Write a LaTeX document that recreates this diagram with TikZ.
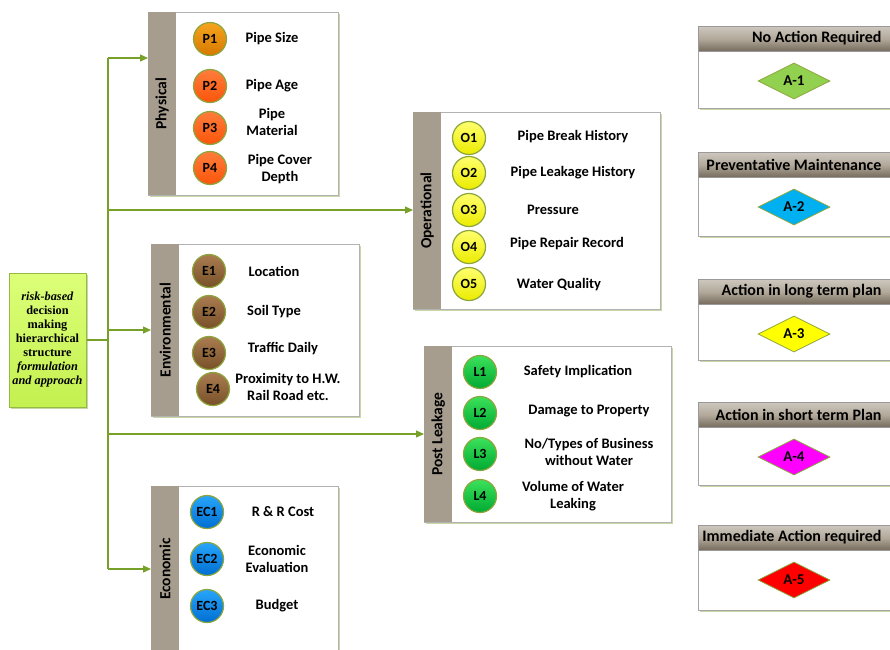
\documentclass[tikz,border=0pt]{standalone}
\usepackage{fontspec}
\setmainfont{Carlito}
\newfontfamily\rootfont{Liberation Serif}
\usetikzlibrary{shapes.geometric, positioning, arrows.meta, shadows}

\definecolor{linkgreen}{RGB}{118,160,40}
\definecolor{stripgray}{RGB}{166,157,142}
\definecolor{shadowgreen}{RGB}{200,216,165}
\definecolor{ringgreen}{RGB}{140,165,60}
\definecolor{rootborder}{RGB}{150,185,70}
\definecolor{roottop}{RGB}{220,255,120}
\definecolor{rootbot}{RGB}{196,240,80}
\definecolor{headtop}{RGB}{205,199,190}
\definecolor{headmid}{RGB}{178,169,155}
\definecolor{headbot}{RGB}{118,107,92}
\definecolor{actgreen}{RGB}{146,208,80}
\definecolor{actcyan}{RGB}{0,176,240}
\definecolor{actyellow}{RGB}{255,255,0}
\definecolor{actmagenta}{RGB}{255,0,255}
\definecolor{actred}{RGB}{255,0,0}

\tikzset{
  txt/.style={font=\fontsize{14.5}{16.5}\selectfont\bfseries, align=center, inner sep=1},
  link/.style={linkgreen, line width=1.2},
  arr/.style={link, -{Triangle[length=8,width=7]}},
  panel/.style={draw=gray!60, fill=white, anchor=north west, inner sep=0,
    drop shadow={shadow xshift=2pt, shadow yshift=-2pt, fill=shadowgreen, opacity=1}},
  strip/.style={fill=stripgray, anchor=north west, inner sep=0, minimum width=28},
  catlabel/.style={rotate=90, font=\fontsize{15.5}{17}\selectfont\bfseries},
  ball/.style={circle, minimum size=33, inner sep=0, draw=ringgreen, line width=1.2,
    font=\fontsize{14}{14}\selectfont\bfseries},
  orangeA/.style={ball, top color={rgb,255:red,245;green,165;blue,30}, bottom color={rgb,255:red,214;green,120;blue,0}},
  orangeB/.style={ball, top color={rgb,255:red,255;green,125;blue,60}, bottom color={rgb,255:red,250;green,85;blue,10}},
  yellowball/.style={ball, top color={rgb,255:red,255;green,255;blue,110}, bottom color={rgb,255:red,235;green,235;blue,0}},
  brownball/.style={ball, top color={rgb,255:red,170;green,125;blue,80}, bottom color={rgb,255:red,120;green,80;blue,40}},
  greenball/.style={ball, top color={rgb,255:red,60;green,225;blue,90}, bottom color={rgb,255:red,0;green,170;blue,50}},
  blueball/.style={ball, top color={rgb,255:red,40;green,165;blue,250}, bottom color={rgb,255:red,0;green,110;blue,210}},
  actbox/.style={panel, draw=gray!70, minimum width=200},
  acthead/.style={anchor=north west, inner sep=0, minimum width=200, minimum height=25,
    draw=gray!80, top color=headtop, bottom color=headbot, middle color=headmid},
  actdiamond/.style={diamond, aspect=2, minimum width=72, minimum height=36, inner sep=0,
    draw=ringgreen, line width=0.8, font=\fontsize{15}{16}\selectfont\bfseries}
}

\begin{document}
\begin{tikzpicture}[x=1pt, y=1pt]
  \useasboundingbox (0,-649) rectangle (890,0);

  % root box
  \node[draw=rootborder, line width=1, top color=roottop, bottom color=rootbot,
        minimum width=77, minimum height=134, inner sep=0, align=center,
        font=\rootfont\bfseries\fontsize{12.3}{14}\selectfont,
        drop shadow={shadow xshift=2pt, shadow yshift=-2pt, fill=shadowgreen, opacity=1}]
        (root) at (47.5,-340) {\textit{risk-based}\\decision\\making\\hierarchical\\structure\\\textit{formulation}\\\textit{and approach}};

  % trunk
  \coordinate (tphys) at (108,-58);
  \coordinate (toper) at (108,-210);
  \coordinate (tenv) at (108,-330);
  \coordinate (tpost) at (108,-434);
  \coordinate (teco) at (108,-569);

  % Physical
  \node[panel, minimum width=190, minimum height=183] (phys) at (148,-12) {};
  \node[strip, minimum height=183] (physstrip) at (phys.north west) {};
  \node[catlabel] (physlabel) at (physstrip) {Physical};
  \node[orangeA] (p1) at (210,-39) {P1};
  \node[orangeB] (p2) at (210,-86) {P2};
  \node[orangeB] (p3) at (210,-128) {P3};
  \node[orangeB] (p4) at (210,-168) {P4};
  \node[txt] (p1txt) at (272,-39) {Pipe Size};
  \node[txt] (p2txt) at (272,-86) {Pipe Age};
  \node[txt] (p3txt) at (272,-122) {Pipe\\Material};
  \node[txt] (p4txt) at (280,-169) {Pipe Cover\\Depth};

  % Operational
  \node[panel, minimum width=247, minimum height=197] (oper) at (413,-112) {};
  \node[strip, minimum height=197] (operstrip) at (oper.north west) {};
  \node[catlabel] (operlabel) at (operstrip) {Operational};
  \node[yellowball] (o1) at (469,-138) {O1};
  \node[yellowball] (o2) at (469,-173) {O2};
  \node[yellowball] (o3) at (469,-210) {O3};
  \node[yellowball] (o4) at (469,-247) {O4};
  \node[yellowball] (o5) at (469,-284) {O5};
  \node[txt] (o1txt) at (573,-137) {Pipe Break History};
  \node[txt] (o2txt) at (573,-173) {Pipe Leakage History};
  \node[txt] (o3txt) at (553,-210) {Pressure};
  \node[txt] (o4txt) at (567,-244) {Pipe Repair Record};
  \node[txt] (o5txt) at (559,-285) {Water Quality};

  % Environmental
  \node[panel, minimum width=208, minimum height=172] (env) at (151,-244) {};
  \node[strip, minimum height=172] (envstrip) at (env.north west) {};
  \node[catlabel] (envlabel) at (envstrip) {Environmental};
  \node[brownball] (e1) at (209,-271) {E1};
  \node[brownball] (e2) at (209,-312) {E2};
  \node[brownball] (e3) at (209,-353) {E3};
  \node[brownball] (e4) at (213,-389) {E4};
  \node[txt] (e1txt) at (274,-271) {Location};
  \node[txt] (e2txt) at (274,-312) {Soil Type};
  \node[txt] (e3txt) at (283,-349) {Traffic Daily};
  \node[txt] (e4txt) at (288,-387) {Proximity to H.W.\\Rail Road etc.};

  % Post Leakage
  \node[panel, minimum width=247, minimum height=176] (post) at (424,-346) {};
  \node[strip, minimum height=176] (poststrip) at (post.north west) {};
  \node[catlabel] (postlabel) at (poststrip) {Post Leakage};
  \node[greenball] (l1) at (480,-372) {L1};
  \node[greenball] (l2) at (480,-413) {L2};
  \node[greenball] (l3) at (480,-454) {L3};
  \node[greenball] (l4) at (480,-496) {L4};
  \node[txt] (l1txt) at (578,-372) {Safety Implication};
  \node[txt] (l2txt) at (589,-411) {Damage to Property};
  \node[txt] (l3txt) at (589,-452) {No/Types of Business\\without Water};
  \node[txt] (l4txt) at (573,-496) {Volume of Water\\Leaking};

  % Economic
  \node[panel, minimum width=187, minimum height=175] (eco) at (151,-486) {};
  \node[strip, minimum height=175] (ecostrip) at (eco.north west) {};
  \node[catlabel] (ecolabel) at (151+14,-569) {Economic};
  \node[blueball] (ec1) at (207,-512) {EC1};
  \node[blueball] (ec2) at (207,-559) {EC2};
  \node[blueball] (ec3) at (207,-606) {EC3};
  \node[txt] (ec1txt) at (283,-512) {R \& R Cost};
  \node[txt] (ec2txt) at (277,-559) {Economic\\Evaluation};
  \node[txt] (ec3txt) at (277,-606) {Budget};

  % connectors
  \draw[link] (root.east) -- (root.east -| tphys);
  \draw[link] (tphys) -- (teco);
  \draw[arr] (tphys) -- (tphys -| phys.west);
  \draw[arr] (toper) -- (toper -| oper.west);
  \draw[arr] (tenv) -- (tenv -| env.west);
  \draw[arr] (tpost) -- (tpost -| post.west);
  \draw[arr] (teco) -- (teco -| eco.west);

  % action levels
  \foreach \i/\ytop/\boxh/\ttl/\col in {1/26/82/No Action Required/actgreen,
      2/152/84/Preventative Maintenance/actcyan,
      3/279/81/Action in long term plan/actyellow,
      4/402/83/Action in short term Plan/actmagenta,
      5/525/85/Immediate Action required/actred}{
    \node[actbox, minimum height=\boxh] (act\i) at (698,-\ytop) {};
    \node[acthead] (acthead\i) at (act\i.north west) {};
    \node[font=\fontsize{16}{17}\selectfont\bfseries, anchor=east] (acttitle\i) at (885,-\ytop-12.5) {\ttl};
    \node[actdiamond, fill=\col] (dia\i) at (794,-\ytop-55) {A-\i};
  }
\end{tikzpicture}
\end{document}
